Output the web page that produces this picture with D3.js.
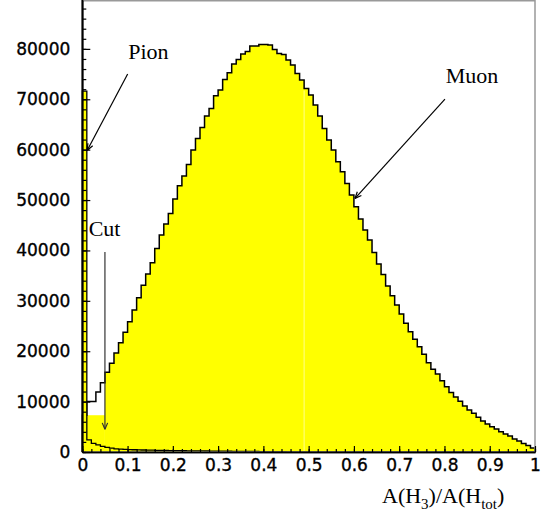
<!DOCTYPE html>
<html>
<head>
<meta charset="utf-8">
<script src="https://cdn.jsdelivr.net/npm/d3@7"></script>
<style>
  body { margin: 0; background: #fff; }
  .tick text { font-family: "DejaVu Sans", sans-serif; font-size: 17px; fill: #000; stroke: #000; stroke-width: 0.35px; }
</style>
</head>
<body>
<div class="canvas"></div>
<script>
// bin contents, 100 bins of width 0.01 from 0 to 1
const muonCounts = [
  7300, 10000, 10000, 11900, 13750, 15850, 17600, 19650, 21700, 23750,
  25850, 28170, 30600, 33100, 35300, 37550, 40400, 43050, 45250, 47350,
  50200, 52840, 54760, 57070, 59920, 62230, 64410, 66660, 68180, 70700,
  71820, 73940, 75260, 76980, 77910, 78960, 79490, 80550, 80550, 80880,
  80880, 80750, 79890, 79100, 78900, 77770, 76780, 75130, 73800, 72150,
  70830, 68840, 66660, 64210, 61900, 59920, 57600, 55620, 53300, 50990,
  48670, 46260, 44050, 42060, 39610, 37300, 35250, 32930, 31010, 29170,
  27380, 25530, 23870, 22360, 20890, 19380, 17720, 16410, 15480, 14150,
  12960, 11800, 10900, 10050, 9130, 8330, 7670, 6880, 6150, 5560,
  5030, 4560, 4040, 3570, 3170, 2580, 2180, 1700, 1300, 800
];
const pionCounts = [
  71600, 2400, 1700, 1400, 1100, 900, 750, 620, 560, 520,
  480, 450, 420, 400, 380, 360, 340, 320, 300, 290,
  280, 260, 250, 240, 230, 220, 210, 200, 190, 180,
  170, 160, 150, 140, 130, 120, 110, 100, 95, 90,
  80, 70, 60, 55, 50, 40, 35, 30, 25, 20,
  15, 10, 10, 5, 5, 0, 0, 0, 0, 0,
  0, 0, 0, 0, 0, 0, 0, 0, 0, 0,
  0, 0, 0, 0, 0, 0, 0, 0, 0, 0,
  0, 0, 0, 0, 0, 0, 0, 0, 0, 0,
  0, 0, 0, 0, 0, 0, 0, 0, 0, 0
];
// filled level below the cut (bins 1-4)
const belowCutCounts = [0, 7300, 7300, 7300, 7300];
const cutBin = 5;

const xTicks = [0, 0.1, 0.2, 0.3, 0.4, 0.5, 0.6, 0.7, 0.8, 0.9, 1];
const yTicks = [0, 10000, 20000, 30000, 40000, 50000, 60000, 70000, 80000];

const notes = [
  {label: 'Pion', at: [0.1015, 77970], from: [0.1002, 75000], to: [0.011, 59900], color: '#000'},
  {label: 'Muon', at: [0.8027, 73150], from: [0.8011, 70040], to: [0.6024, 50330], color: '#000'},
  {label: 'Cut',  at: [0.0141, 42910], from: [0.05, 39700],   to: [0.05, 4500],    color: '#333'}
];

const serif = '"Liberation Serif", "Times New Roman", serif';

const svg = d3.select('.canvas')
  .append('svg')
    .attr('width', 543)
    .attr('height', 518);

svg.append('rect').attr('width', 543).attr('height', 518).attr('fill', '#fff');

const x = d3.scaleLinear().domain([0, 1]).range([82.3, 535]);
const y = d3.scaleLinear().domain([0, 89700]).range([452, 0]);

const binWidth = 1 / muonCounts.length;

// step outline points from bin "from" to the end of the array
const stepPoints = (counts, from = 0) => {
  const pts = [[from * binWidth, 0]];
  counts.forEach((v, i) => { if (i >= from) pts.push([i * binWidth, v]); });
  pts.push([counts.length * binWidth, counts[counts.length - 1]]);
  pts.push([counts.length * binWidth, 0]);
  return pts;
};

const step = d3.line()
  .x(d => x(d[0]))
  .y(d => y(d[1]))
  .curve(d3.curveStepAfter);

// fills
svg.append('path')
  .attr('d', step(stepPoints(muonCounts, cutBin)) + 'Z')
  .attr('fill', '#ffff00');
svg.append('path')
  .attr('d', step(stepPoints(belowCutCounts, 1)) + 'Z')
  .attr('fill', '#ffff00');

// faint seam in the fill
svg.append('line')
  .attr('x1', x(0.49)).attr('x2', x(0.49))
  .attr('y1', y(0)).attr('y2', y(muonCounts[49]) + 2)
  .attr('stroke', '#ffffb0').attr('stroke-width', 0.8);

// muon outline
svg.append('path')
  .attr('d', step(stepPoints(muonCounts)))
  .attr('fill', 'none')
  .attr('stroke', '#000')
  .attr('stroke-width', 1.5);

// pion histogram
svg.append('path')
  .attr('d', step(stepPoints(pionCounts)) + 'Z')
  .attr('fill', '#ffff00');
svg.append('path')
  .attr('d', step(stepPoints(pionCounts)))
  .attr('fill', 'none')
  .attr('stroke', '#000')
  .attr('stroke-width', 1.3);

// frame
svg.append('rect')
  .attr('x', x(0)).attr('y', 0.75)
  .attr('width', x(1) - x(0)).attr('height', y(0) - 0.75)
  .attr('fill', 'none')
  .attr('stroke', '#999')
  .attr('stroke-width', 1.5);

// axes
const yAxis = d3.axisLeft(y).tickValues(yTicks)
  .tickSizeInner(-8).tickSizeOuter(0).tickPadding(12)
  .tickFormat(d3.format('d'));
const yMinor = d3.axisLeft(y).tickValues(d3.range(0, 89000, 2000))
  .tickSizeInner(-4).tickSizeOuter(0).tickFormat('');
const xAxis = d3.axisBottom(x).tickValues(xTicks)
  .tickSizeInner(-6).tickSizeOuter(0).tickPadding(7)
  .tickFormat(d => String(d));
const xMinor = d3.axisBottom(x).tickValues(d3.range(0, 1.001, 0.02))
  .tickSizeInner(-3).tickSizeOuter(0).tickFormat('');

const yg = svg.append('g').attr('transform', `translate(${x(0)},0)`);
yg.append('g').call(yMinor);
yg.append('g').call(yAxis);
const xg = svg.append('g').attr('transform', `translate(0,${y(0)})`);
xg.append('g').call(xMinor);
xg.append('g').call(xAxis);

svg.selectAll('.domain').attr('stroke', '#000').attr('stroke-width', 1.6);
svg.selectAll('.tick line').attr('stroke', '#000').attr('stroke-width', 1.2);
svg.select('.domain').attr('d', `M0,${y(89700)}V${y(0)}`);

// axis title
const title = svg.append('text')
  .attr('font-family', serif).attr('font-size', 22)
  .attr('x', 382).attr('y', 503);
title.append('tspan').text('A(H');
title.append('tspan').attr('font-size', 15).attr('dy', 6).text('3');
title.append('tspan').attr('dy', -6).text(')/A(H');
title.append('tspan').attr('font-size', 15).attr('dy', 6).text('tot');
title.append('tspan').attr('dy', -6).text(')');

// annotations with arrows
notes.forEach(n => {
  svg.append('text')
    .attr('font-family', serif).attr('font-size', 22)
    .attr('x', x(n.at[0])).attr('y', y(n.at[1]))
    .text(n.label);
  const x1 = x(n.from[0]), y1 = y(n.from[1]);
  const x2 = x(n.to[0]), y2 = y(n.to[1]);
  svg.append('line')
    .attr('x1', x1).attr('y1', y1).attr('x2', x2).attr('y2', y2)
    .attr('stroke', n.color).attr('stroke-width', 1.2);
  const a = Math.atan2(y1 - y2, x1 - x2);
  [-0.4, 0.4].forEach(da => {
    svg.append('line')
      .attr('x1', x2).attr('y1', y2)
      .attr('x2', x2 + 7 * Math.cos(a + da)).attr('y2', y2 + 7 * Math.sin(a + da))
      .attr('stroke', n.color).attr('stroke-width', 1.2);
  });
});
</script>
</body>
</html>
